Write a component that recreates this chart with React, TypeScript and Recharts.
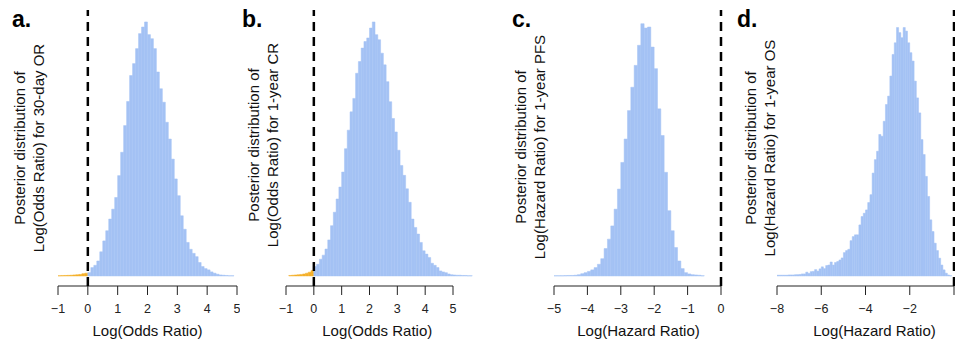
import React from "react";
import { Bar, BarChart, Cell, ReferenceLine, XAxis, YAxis } from "recharts";

// histogram bin width (log scale units), bins are listed by their centre
const BIN = 0.1;

// a. 30-day OR
const startA = -0.95;
const heightsA = [
  0.1, 0.15, 0.2, 0.25, 0.3, 0.4, 0.5, 0.6, 0.9, 1.1,
  1.3, 3.3, 4.2, 5.9, 9.5, 13.8, 17.8, 22.4, 26.3, 30.9,
  39.5, 48.7, 59.2, 68.7, 78.9, 83.6, 89.5, 95.4, 98, 100,
  95, 93.4, 89.5, 80.3, 73.7, 68.4, 60.5, 53.9, 46, 38.2,
  31.6, 23.7, 18.4, 13.2, 10.5, 8.9, 7.6, 5.3, 3.7, 2.9,
  2.4, 1.6, 1.1, 0.7, 0.4, 0.3, 0.2, 0.1, 0.1,
];

// b. 1-year CR
const startB = -0.85;
const heightsB = [
  0.2, 0.3, 0.4, 0.5, 0.6, 0.8, 1.1, 1.5, 2.2,
  3.7, 4.6, 6.6, 8.2, 10.6, 14.2, 19.8, 25.1, 30.3, 35,
  40.9, 50.1, 57.4, 64.6, 69.9, 79.8, 84.4, 89.7, 92.3, 93.7,
  97.6, 100, 95, 93, 87.7, 83.1, 76.5, 68.6, 62, 56.7,
  49.5, 43.5, 39.6, 34.3, 29, 22.4, 19.1, 16.5, 13.2, 9.9,
  8.6, 7.3, 5, 4.2, 3.3, 2, 1.6, 1.3, 0.8, 0.5,
  0.4, 0.3, 0.3, 0.2, 0.2, 0.1, 0.1,
];

// c. 1-year PFS
const startC = -4.95;
const heightsC = [
  0.1, 0.1, 0.1, 0.15, 0.2, 0.2, 0.3, 0.5, 0.9, 1.3,
  1.8, 2.4, 3.3, 4.6, 6.8, 10.8, 14.5, 19.7, 26.3, 34.2,
  44.7, 53.9, 65.1, 74.3, 82.9, 90.8, 99.3, 97.6, 98, 90.1,
  81.6, 65.8, 55.3, 40.8, 25.7, 17.8, 11.2, 5.9, 2.9, 1.3,
  0.8, 0.5, 0.4, 0.3, 0.1,
];

// d. 1-year OS
const startD = -7.95;
const heightsD = [
  0.3, 0.3, 0.3, 0.3, 0.3, 0.4, 0.4, 0.4, 0.5, 0.5,
  0.6, 0.8, 0.8, 1.5, 1.0, 1.7, 1.8, 2.5, 1.9, 2.8,
  3.6, 2.9, 4.1, 4.3, 5.5, 4.3, 5.3, 5.7, 6.3, 7.1,
  9.2, 10, 10.5, 13.9, 15.5, 16.2, 16.2, 20.1, 23.4, 24.7,
  26, 28.9, 32, 40.5, 45.8, 49.1, 55.7, 55, 60.9, 67.5,
  70.8, 78.7, 87.2, 91.8, 97.8, 95.8, 93.8, 97.8, 96.4, 91.8,
  87.9, 84.6, 76.7, 70.1, 64.2, 53.7, 47.8, 39.2, 31.3, 22.1,
  17.5, 12.9, 10, 7, 4.3, 2.4, 1.1, 0.4, 0.1,
];

const ticksA = [-1, 0, 1, 2, 3, 4, 5];
const ticksB = [-1, 0, 1, 2, 3, 4, 5];
const ticksC = [-5, -4, -3, -2, -1, 0];
const ticksD = [-8, -6, -4, -2, 0];

const panelLetters = ["a.", "b.", "c.", "d."];
const xTitles = ["Log(Odds Ratio)", "Log(Odds Ratio)", "Log(Hazard Ratio)", "Log(Hazard Ratio)"];
const yTitleTop = "Posterior distribution of";
const yTitles = [
  "Log(Odds Ratio) for 30-day OR",
  "Log(Odds Ratio) for 1-year CR",
  "Log(Hazard Ratio) for 1-year PFS",
  "Log(Hazard Ratio) for 1-year OS",
];

const BLUE = "#a4c2f4";
const GOLD = "#f4b02a";
const FONT = '"Liberation Sans", Arial, Helvetica, sans-serif';
const H = 343;
const Y_DOMAIN: [number, number] = [-3.95, 104.7];

interface PanelProps {
  left: number;
  width: number;
  ml: number;
  mr: number;
  start: number;
  heights: number[];
  domain: [number, number];
  ticks: number[];
  xTitle: string;
  labelDx: number;
  goldBelowZero: boolean;
  hideLastTick?: boolean;
}

function Panel(p: PanelProps) {
  const data = p.heights.map((h, i) => ({ x: +(p.start + i * BIN).toFixed(2), h }));
  const plotW = p.width - p.ml - p.mr;
  const binPx = (plotW / (p.domain[1] - p.domain[0])) * BIN;
  const first = p.ticks[0];
  const last = p.ticks[p.ticks.length - 1];
  const fmt = (v: number) => {
    // the last label of panel d falls off the page in the original
    if (p.hideLastTick && v === last) return "";
    return String(v).replace("-", "\u2212");
  };
  return (
    <div style={{ position: "absolute", left: p.left, top: 0 }}>
      <BarChart
        width={p.width}
        height={H}
        data={data}
        margin={{ top: 10, right: p.mr, left: p.ml, bottom: 0 }}
        barCategoryGap={0}
        barGap={0}
      >
        <XAxis
          type="number"
          dataKey="x"
          domain={p.domain}
          allowDataOverflow
          ticks={p.ticks}
          interval={0}
          height={57}
          axisLine={false}
          tickSize={9}
          tickMargin={9}
          tickLine={{ stroke: "#222" }}
          tick={{ fontSize: 12.5, fill: "#222", fontFamily: FONT }}
          tickFormatter={fmt}
          label={{
            value: p.xTitle,
            position: "insideBottom",
            offset: 7,
            dx: p.labelDx,
            fontSize: 15,
            fill: "#111",
            fontFamily: FONT,
          }}
        />
        <YAxis hide type="number" domain={Y_DOMAIN} allowDataOverflow />
        <Bar dataKey="h" isAnimationActive={false} barSize={binPx - 0.05}>
          {data.map((d) => {
            const c = p.goldBelowZero && d.x < 0 ? GOLD : BLUE;
            return <Cell key={d.x} fill={c} stroke={c} strokeWidth={0.5} />;
          })}
        </Bar>
        <ReferenceLine
          segment={[
            { x: first, y: Y_DOMAIN[0] },
            { x: last, y: Y_DOMAIN[0] },
          ]}
          stroke="#222"
          strokeWidth={1}
          ifOverflow="visible"
        />
        <ReferenceLine
          x={0}
          stroke="#000"
          strokeWidth={2.5}
          strokeDasharray="9 6"
          ifOverflow="visible"
        />
      </BarChart>
    </div>
  );
}

const letterPos = [
  { x: 12, y: 27 },
  { x: 242, y: 27 },
  { x: 512, y: 27 },
  { x: 737, y: 27 },
];
const yTitlePos = [
  { x1: 24.5, x2: 43.5, cy: 148 },
  { x1: 258.5, x2: 277.5, cy: 145 },
  { x1: 526, x2: 544.5, cy: 147 },
  { x1: 756, x2: 774.5, cy: 148 },
];

export default function App() {
  return (
    <div style={{ position: "absolute", left: 0, top: 0, width: 955, height: H, background: "#fff", overflow: "hidden" }}>
      <Panel left={0} width={240} ml={58} mr={3} start={startA} heights={heightsA} domain={[-1, 5]} ticks={ticksA} xTitle={xTitles[0]} labelDx={0} goldBelowZero />
      <Panel left={240} width={240} ml={46} mr={7.5} start={startB} heights={heightsB} domain={[-1, 5.7]} ticks={ticksB} xTitle={xTitles[1]} labelDx={-2} goldBelowZero />
      <Panel left={480} width={245} ml={74} mr={4} start={startC} heights={heightsC} domain={[-5, 0]} ticks={ticksC} xTitle={xTitles[2]} labelDx={1} goldBelowZero={false} />
      <Panel left={725} width={232} ml={52} mr={3} start={startD} heights={heightsD} domain={[-8, 0]} ticks={ticksD} xTitle={xTitles[3]} labelDx={9} goldBelowZero={false} hideLastTick />
      <svg width={955} height={H} style={{ position: "absolute", left: 0, top: 0, pointerEvents: "none" }}>
        {panelLetters.map((t, i) => (
          <text key={t} x={letterPos[i].x} y={letterPos[i].y} fontSize={23} fontWeight="bold" fontFamily={FONT} fill="#000">
            {t}
          </text>
        ))}
        {yTitles.map((t, i) => {
          const p = yTitlePos[i];
          return (
            <g key={t} fontSize={15} fontFamily={FONT} fill="#111" textAnchor="middle">
              <text x={p.x1} y={p.cy} transform={`rotate(-90 ${p.x1} ${p.cy})`}>
                {yTitleTop}
              </text>
              <text x={p.x2} y={p.cy} transform={`rotate(-90 ${p.x2} ${p.cy})`}>
                {t}
              </text>
            </g>
          );
        })}
      </svg>
    </div>
  );
}
